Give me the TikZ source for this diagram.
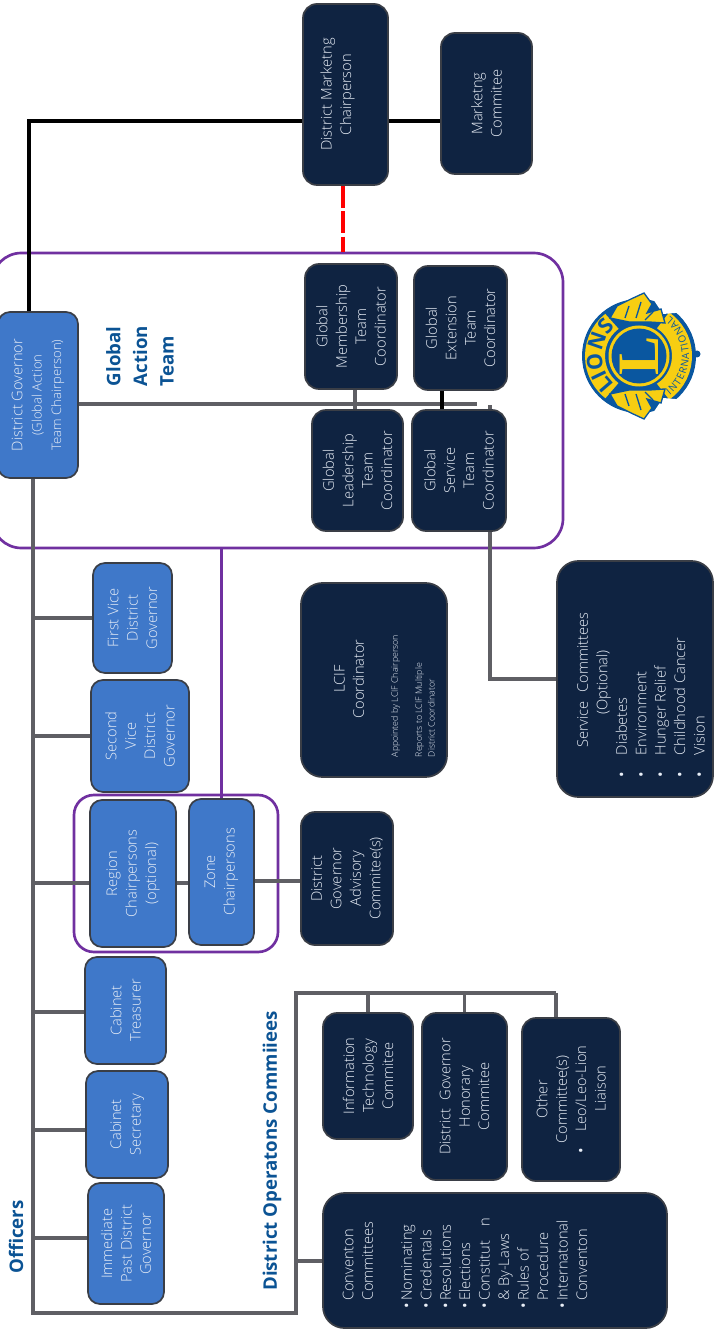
\documentclass[tikz,border=0pt]{standalone}
\usepackage{fontspec}
\setmainfont{Open Sans Light}
\newfontfamily\titlefont{Open Sans}
\newfontfamily\logofont{Liberation Serif}
\usetikzlibrary{decorations.text}

\definecolor{navyfill}{HTML}{0F2341}
\definecolor{bluefill}{HTML}{3F78C9}
\definecolor{boxedge}{HTML}{3A3E46}
\definecolor{linegray}{HTML}{5F5F64}
\definecolor{framepurple}{HTML}{7030A0}
\definecolor{titleblue}{HTML}{0B5394}
\definecolor{boxtxt}{HTML}{E8EEF7}
\definecolor{logoblue}{HTML}{0A57A0}
\definecolor{logoyellow}{HTML}{F7CE12}

\tikzset{
  boxsize/.style 2 args={minimum height=#1*0.75pt,minimum width=#2*0.75pt},
  anybox/.style={rotate=90,draw=boxedge,line width=1.3pt,inner sep=0pt,text=boxtxt,
    align=center,font=\fontsize{11}{14.6}\selectfont},
  bluebox/.style={anybox,fill=bluefill,rounded corners=9pt},
  navybox/.style={anybox,fill=navyfill,rounded corners=10.5pt},
  bigbox/.style={anybox,fill=navyfill,rounded corners=16pt},
  boxlabel/.style={rotate=90,inner sep=0pt,text=boxtxt,align=left,font=\fontsize{11}{14.6}\selectfont},
  heading/.style={rotate=90,inner sep=0pt,text=titleblue,align=left,font=\titlefont\bfseries\fontsize{14}{20}\selectfont},
  framebox/.style={draw=framepurple,line width=2pt,inner sep=0pt},
  grayline/.style={draw=linegray,line width=2.7pt},
  blackline/.style={draw=black,line width=2.7pt},
  purpleline/.style={draw=framepurple,line width=2.2pt},
  redline/.style={draw=red,line width=2.5pt,dash pattern=on 16.5pt off 2.5pt}
}
\newcommand{\lbul}{\makebox[0.5em][l]{\titlefont\textbullet}}

\begin{document}
\begin{tikzpicture}[x=0.75pt,y=-0.75pt]
  \useasboundingbox (0,0) rectangle (713,1333);

  % purple frames
  \node[framebox,rounded corners=22pt,minimum width=571*0.75pt,minimum height=295*0.75pt] (gatframe) at (277.5,400.5) {};
  \node[framebox,rounded corners=15pt,minimum width=204*0.75pt,minimum height=157*0.75pt] (rzframe) at (176,873.5) {};

  % officers
  \node[bluebox,boxsize={80}{166}] (dgov) at (38,395)
    {District Governor\\{\fontsize{9.8}{14.6}\selectfont (Global Action}\\{\fontsize{9.8}{14.6}\selectfont Team Chairperson)}};
  \node[bluebox,boxsize={79}{110}] (fvice) at (132.5,618) {First Vice\\District\\Governor};
  \node[bluebox,boxsize={98}{112}] (svice) at (140,736) {Second\\Vice\\District\\Governor};
  \node[bluebox,boxsize={86}{147}] (region) at (133,873.5) {Region\\Chairpersons\\(optional)};
  \node[bluebox,boxsize={65}{146}] (zone) at (221.5,872) {Zone\\Chairpersons};
  \node[bluebox,boxsize={81}{107}] (treasurer) at (125.5,1010.5) {Cabinet\\Treasurer};
  \node[bluebox,boxsize={82}{107}] (secretary) at (127,1124.5) {Cabinet\\Secretary};
  \node[bluebox,boxsize={76}{121}] (pastdg) at (126,1243.5) {Immediate\\Past District\\Governor};

  % global action team
  \node[navybox,boxsize={92}{125}] (gmember) at (351,326.5) {Global\\Membership\\Team\\Coordinator};
  \node[navybox,boxsize={91}{121}] (glead) at (357.5,470.5) {Global\\Leadership\\Team\\Coordinator};
  \node[navybox,boxsize={93}{124}] (gext) at (460.5,328) {Global\\Extension\\Team\\Coordinator};
  \node[navybox,boxsize={94}{121}] (gservice) at (459,470.5) {Global\\Service\\Team\\Coordinator};

  % marketing
  \node[navybox,boxsize={85}{181}] (mktchair) at (345.5,94.5) {District Marketng\\Chairperson\\\mbox{}};
  \node[navybox,boxsize={91}{141}] (mktcom) at (486.5,103.5) {Marketng\\Commitee};

  % committees
  \node[bigbox,boxsize={146}{194}] (lcif) at (374,680) {};
  \node[boxlabel,align=center] (lcifhead) at (349,679) {LCIF\\Coordinator};
  \node[boxlabel,font=\fontsize{6.6}{9.5}\selectfont] (lcifnote) at (413,696)
    {Appointed by LCIF Chairperson\\[8.5pt]Reports to LCIF Multiple\\District Coordinator};
  \node[bigbox,boxsize={156}{236}] (svccom) at (635,679) {};
  \node[boxlabel] (svclabel) at (641,695)
    {\hspace*{22pt}Service\hspace{0.6em}Committees\\\hspace*{47pt}(Optional)\\
     \lbul\hspace*{1em}Diabetes\\\lbul\hspace*{1em}Environment\\\lbul\hspace*{1em}Hunger Relief\\
     \lbul\hspace*{1em}Childhood Cancer\\\lbul\hspace*{1em}Vision};
  \node[navybox,boxsize={92}{133}] (advisory) at (347,878.5) {District\\Governor\\Advisory\\Commitee(s)};
  \node[navybox,boxsize={90}{126}] (infotech) at (368,1076) {Information\\Technology\\Commitee};
  \node[navybox,boxsize={85}{167}] (honorary) at (464.5,1096.5) {District\hspace{0.3em} Governor\\Honorary\\Commitee};
  \node[navybox,boxsize={98}{163}] (otherc) at (571,1099.5)
    {Other\\Committee(s)\\\lbul\hspace*{1em}Leo/Leo-Lion\\\hspace*{1.5em}Liaison};
  \node[bigbox,boxsize={344}{135}] (convcom) at (495,1260.5) {};
  \node[boxlabel] (convlabel) at (465,1263)
    {\hspace*{0.5em}Conventon\\\hspace*{0.5em}Committees\\[14.6pt]\lbul Nominating\\\lbul Credentals\\\lbul Resolutions\\\lbul Elections\\
     \lbul Constitut\hspace{1em}n\\\hspace*{0.5em}\& By-Laws\\\lbul Rules of\\\hspace*{0.5em}Procedure\\\lbul Internatonal\\\hspace*{0.5em}Conventon};

  % headings
  \node[heading] (gattitle) at (140,356) {Global\\Action\\Team};
  \node[heading] (officers) at (16,1237) {Officers};
  \node[heading] (oprtitle) at (272,1151) {District Operatons Commiiees};

  % free ends of the connectors
  \coordinate (trunkend) at (33,1313);
  \coordinate (oprcorner) at (296,1313);
  \coordinate (oprtop) at (296,993);
  \coordinate (oprend) at (556,993);
  \coordinate (regionrow) at (33,883);
  \coordinate (zonerow) at (254,881);
  \coordinate (secrow) at (33,1130);
  \coordinate (treasrow) at (33,1012);
  \coordinate (pastrow) at (33,1238);
  \coordinate (convrow) at (296,1261);
  \coordinate (dgrow) at (477,404);
  \coordinate (memberlink) at (355,400);
  \coordinate (extlink) at (442,400);
  \coordinate (svcstub) at (490,405);
  \coordinate (blackup) at (29,121);
  \coordinate (redlink) at (343,200);

  % gray tree
  \draw[grayline] (trunkend |- dgov.west) -- (trunkend) -- (oprcorner) -- (oprtop) -- (oprend);
  \draw[grayline] (trunkend |- fvice.north) -- (fvice.north);
  \draw[grayline] (trunkend |- svice.north) -- (svice.north);
  \draw[grayline] (regionrow) -- (regionrow -| region.north);
  \draw[grayline] (regionrow -| region.south) -- (regionrow -| zone.north);
  \draw[grayline] (zonerow -| zone.south) -- (zonerow -| advisory.north);
  \draw[grayline] (treasrow) -- (treasrow -| treasurer.north);
  \draw[grayline] (secrow) -- (secrow -| secretary.north);
  \draw[grayline] (pastrow) -- (pastrow -| pastdg.north);
  \draw[grayline] (convrow) -- (convrow -| convcom.north);
  \draw[grayline] (oprtop -| infotech.east) -- (infotech.east);
  \draw[grayline] (oprtop -| honorary.east) -- (honorary.east);
  \draw[grayline] (oprend |- otherc.east) -- (oprend) ;
  \draw[grayline] (dgrow -| dgov.south) -- (dgrow);
  \draw[grayline] (memberlink |- gmember.west) -- (memberlink |- glead.east);
  \draw[grayline] (svcstub) -- (svcstub |- gservice.east);
  \draw[grayline] (svcstub |- gservice.west) -- (svcstub |- svccom.north) -- (svccom.north);

  % black and coloured links
  \draw[blackline] (extlink |- gext.west) -- (extlink |- gservice.east);
  \draw[blackline] (blackup |- dgov.east) -- (blackup) -- (blackup -| mktchair.north);
  \draw[blackline] (blackup -| mktchair.south) -- (blackup -| mktcom.north);
  \draw[redline] (redlink |- mktchair.west) -- (redlink |- gatframe.north);
  \draw[purpleline] (zone.east |- gatframe.south) -- (zone.east);

  % logo
  \begin{scope}[shift={(639,356)},y=0.75pt]
    \fill[logoblue] (0,0) circle (57);
    \fill[logoblue] (58,2) circle (3.5);
    \draw[logoyellow,line width=15pt] (128:44) arc (128:232:44);
    \draw[logoyellow,line width=15pt] (-56:43) arc (-56:56:43);
    \fill[logoyellow] (0,0) circle (30.5);
    \fill[logoblue] (0,0) circle (27.5);
    \foreach \flip in {1,-1}{
      \begin{scope}[yscale=\flip]
        \fill[white] (12,60) -- (36,60) -- (48,44) -- (24,42) -- cycle;
        \fill[logoyellow,draw=logoblue,line width=1pt] (-29,38) -- (-22,50) -- (-8,57) -- (5,63)
          -- (13,52) -- (8,43) -- (22,47) -- (26,33) -- (10,34) -- (-10,34) -- cycle;
        \draw[logoblue,line width=1pt] (-14,38) -- (-10,50) (-3,38) -- (2,54) (6,36) -- (14,44);
      \end{scope}
    }
    \node[rotate=90,text=logoyellow,inner sep=0pt,font=\logofont\bfseries\fontsize{44}{44}\selectfont] (logoletter) at (0,0) {L};
    \path[decorate,decoration={text along path,text color=logoblue,text align={fit to path},
      text={|\titlefont\bfseries\fontsize{16}{16}\selectfont|LIONS}}] (230:37) arc (230:130:37);
    \path[decorate,decoration={text along path,text color=logoblue,text align={fit to path},
      text={|\titlefont\fontsize{7.5}{7.5}\selectfont|INTERNATIONAL}}] (-52:50) arc (-52:52:50);
  \end{scope}
\end{tikzpicture}
\end{document}
